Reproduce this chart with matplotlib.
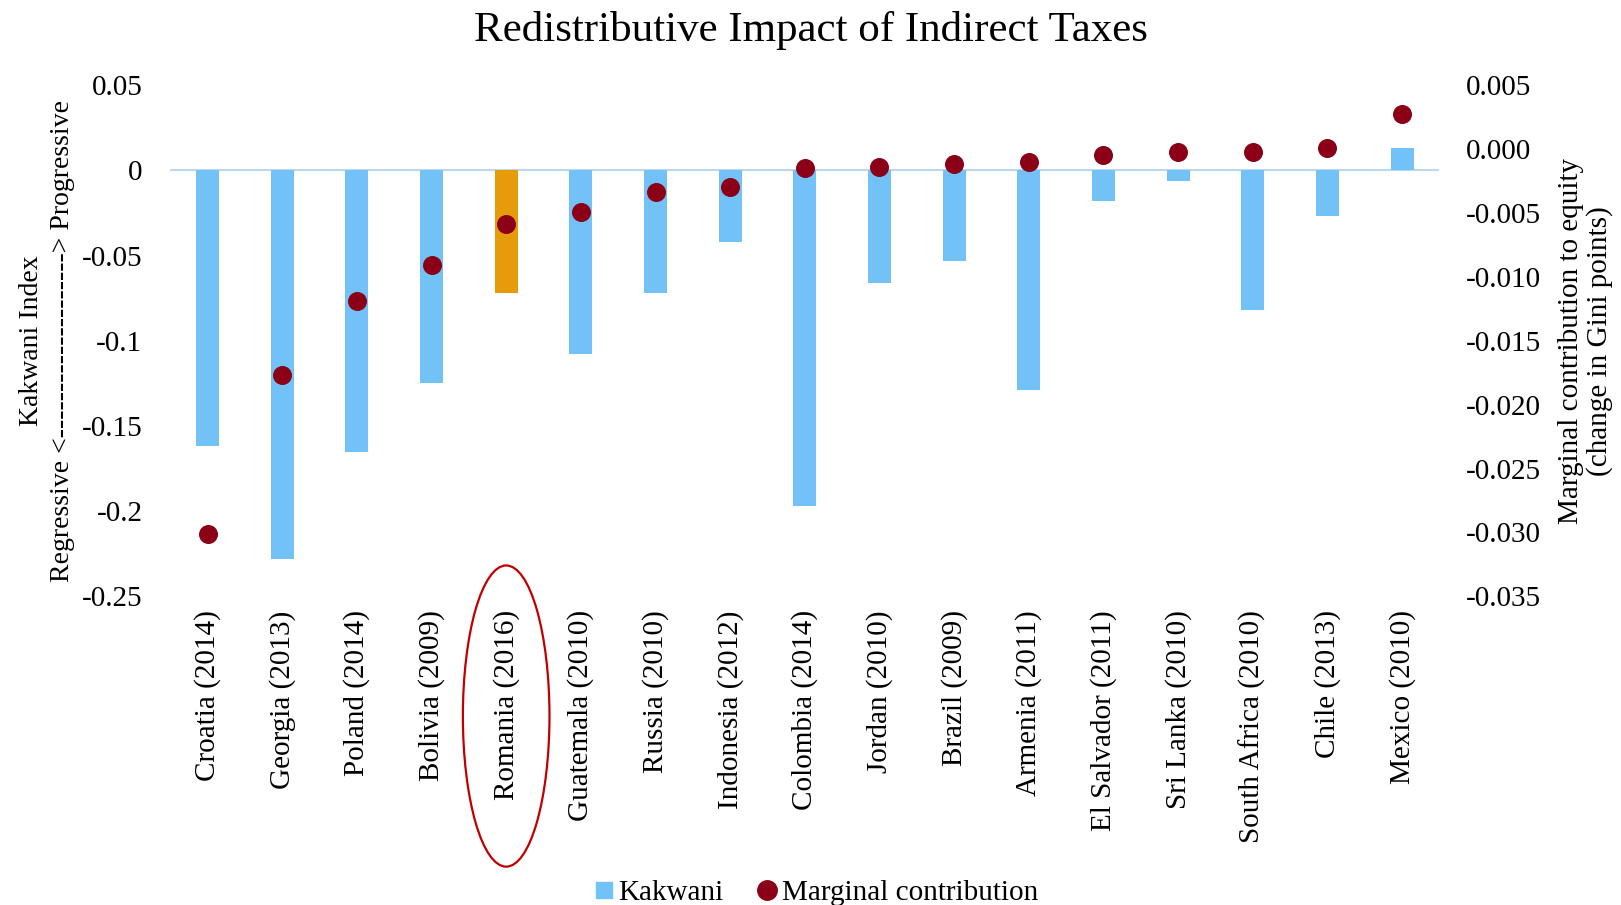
import matplotlib.pyplot as plt
from matplotlib.patches import Ellipse
from matplotlib.lines import Line2D
import matplotlib.transforms as mtransforms

plt.rcParams['font.family'] = ['Liberation Serif', 'DejaVu Serif']

# data
countries = ['Croatia (2014)', 'Georgia (2013)', 'Poland (2014)', 'Bolivia (2009)',
             'Romania (2016)', 'Guatemala (2010)', 'Russia (2010)', 'Indonesia (2012)',
             'Colombia (2014)', 'Jordan (2010)', 'Brazil (2009)', 'Armenia (2011)',
             'El Salvador (2011)', 'Sri Lanka (2010)', 'South Africa (2010)',
             'Chile (2013)', 'Mexico (2010)']
kakwani = [-0.162, -0.228, -0.165, -0.125, -0.072, -0.108, -0.072, -0.042,
           -0.197, -0.066, -0.053, -0.129, -0.018, -0.006, -0.082, -0.027, 0.013]
marginal = [-0.0301, -0.0177, -0.0119, -0.0091, -0.0059, -0.0049, -0.0034, -0.0030,
            -0.0015, -0.0014, -0.0012, -0.0010, -0.0005, -0.0002, -0.0002, 0.0001, 0.0027]
highlight = 'Romania (2016)'

left_ticks = [0.05, 0, -0.05, -0.1, -0.15, -0.2, -0.25]
left_labels = ['0.05', '0', '-0.05', '-0.1', '-0.15', '-0.2', '-0.25']
right_ticks = [0.005, 0.0, -0.005, -0.010, -0.015, -0.020, -0.025, -0.030, -0.035]

blue = '#72C2F7'
orange = '#E69C0A'
red = '#8B0016'

fig = plt.figure(figsize=(16.21, 9.05), dpi=100)
ax = fig.add_axes([0.105, 0.341, 0.783, 0.565])

x = list(range(len(countries)))
colors = [orange if c == highlight else blue for c in countries]
ax.bar(x, kakwani, width=0.31, color=colors, zorder=2)
ax.axhline(0, color='#BDD7EE', lw=1.5, zorder=1)

ax.set_xlim(-0.5, len(countries) - 0.5)
ax.set_ylim(-0.25, 0.05)
ax.set_yticks(left_ticks)
ax.set_yticklabels(left_labels)
ax.set_xticks(x)
ax.set_xticklabels(countries, rotation=90)
ax.tick_params(axis='x', length=0, pad=10, labelsize=21)
ax.tick_params(axis='y', length=0, pad=20, labelsize=21)
for s in ax.spines.values():
    s.set_visible(False)
ax.set_ylabel('Kakwani Index\nRegressive <' + '-' * 20 + '> Progressive',
              fontsize=20, labelpad=5, linespacing=1.3)

ax2 = ax.twinx()
ax2.scatter(x, marginal, s=160, color=red, zorder=3)
ax2.set_ylim(-0.035, 0.005)
ax2.set_yticks(right_ticks)
ax2.set_yticklabels(['%.3f' % t for t in right_ticks])
ax2.tick_params(axis='y', length=0, pad=19, labelsize=21)
for s in ax2.spines.values():
    s.set_visible(False)
ax2.set_ylabel('Marginal contribution to equity\n(change in Gini points)',
               fontsize=21, rotation=90, labelpad=12, linespacing=1.1)

# ellipse round the highlighted country label
trans = mtransforms.blended_transform_factory(ax.transData, ax.transAxes)
ell = Ellipse((countries.index(highlight), -0.234), 1.16, 0.589, transform=trans,
              fill=False, edgecolor='#C00000', lw=1.6, clip_on=False)
ax.add_patch(ell)

fig.suptitle('Redistributive Impact of Indirect Taxes', fontsize=31, y=0.988, va='top')

handles = [Line2D([], [], marker='s', color=blue, ls='none', markersize=12),
           Line2D([], [], marker='o', color=red, ls='none', markersize=14)]
fig.legend(handles, ['Kakwani', 'Marginal contribution'], loc='center',
           bbox_to_anchor=(0.502, 0.013), ncol=2, frameon=False, fontsize=21,
           handletextpad=0.0, columnspacing=1.0, handlelength=1.0)

fig.savefig('out.png', dpi=100)
